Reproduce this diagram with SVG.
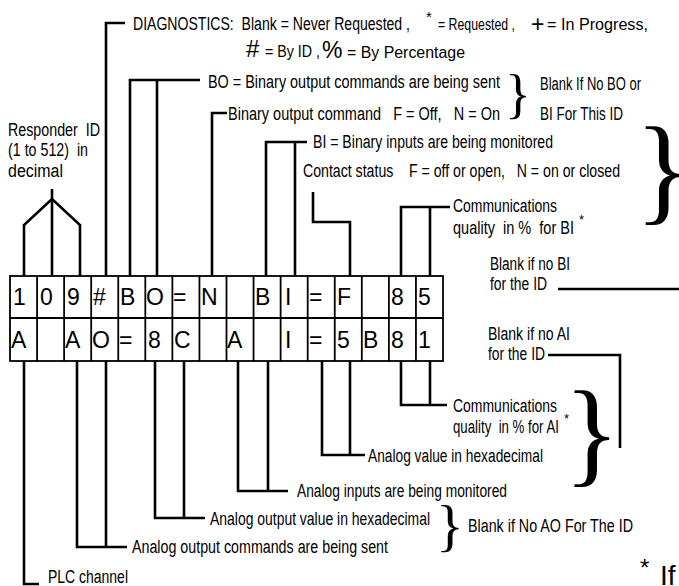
<svg xmlns="http://www.w3.org/2000/svg" width="679" height="586" viewBox="0 0 679 586">
<style>
.t{font-family:"Liberation Sans Narrow","Liberation Sans",Arial,sans-serif;font-size:18px;fill:#000;white-space:pre}
.s{font-size:16px}
.c{font-family:"Liberation Sans",Arial,sans-serif;font-size:23px;fill:#000}
.b{font-family:"Liberation Serif","Times New Roman",serif;fill:#000}
.ln{fill:none;stroke:#000;stroke-width:2.6;stroke-linejoin:miter}
.g{fill:#fff;stroke:#000;stroke-width:1.8}
</style>
<rect width="679" height="586" fill="#fff"/>

<g id="connectors" class="ln">
  <polyline points="24,276 24,225 52,199 80,225 80,276"/>
  <line x1="52" y1="189" x2="52" y2="276"/>
  <polyline points="125,23 106,23 106,276"/>
  <polyline points="130,276 130,80 200,80"/>
  <line x1="157" y1="80" x2="157" y2="276"/>
  <polyline points="227,113 212,113 212,276"/>
  <polyline points="266,276 266,142 307,142"/>
  <line x1="295" y1="142" x2="295" y2="276"/>
  <polyline points="313,192 313,222 350,222 350,276"/>
  <polyline points="401,276 401,207 450,207"/>
  <line x1="430" y1="207" x2="430" y2="276"/>
  <line x1="558" y1="289" x2="679" y2="289"/>
  <polyline points="548,355 620,355 620,448"/>
  <polyline points="24,361 24,584 39,584"/>
  <polyline points="77,361 77,547 127,547"/>
  <line x1="106" y1="361" x2="106" y2="547"/>
  <polyline points="155,361 155,518 205,518"/>
  <line x1="184" y1="361" x2="184" y2="518"/>
  <polyline points="238,361 238,491 288,491"/>
  <line x1="268" y1="361" x2="268" y2="491"/>
  <polyline points="322,361 322,455 365,455"/>
  <line x1="350" y1="361" x2="350" y2="455"/>
  <polyline points="401,361 401,405 447,405"/>
  <line x1="430" y1="361" x2="430" y2="405"/>
</g>

<g id="grid">
  <rect class="g" x="10" y="276" width="433" height="85"/>
  <g stroke="#000" stroke-width="1.8">
    <line x1="10" y1="318" x2="443" y2="318"/>
    <line x1="37.06" y1="276" x2="37.06" y2="361"/>
    <line x1="64.12" y1="276" x2="64.12" y2="361"/>
    <line x1="91.19" y1="276" x2="91.19" y2="361"/>
    <line x1="118.25" y1="276" x2="118.25" y2="361"/>
    <line x1="145.31" y1="276" x2="145.31" y2="361"/>
    <line x1="172.37" y1="276" x2="172.37" y2="361"/>
    <line x1="199.44" y1="276" x2="199.44" y2="361"/>
    <line x1="226.5" y1="276" x2="226.5" y2="361"/>
    <line x1="253.56" y1="276" x2="253.56" y2="361"/>
    <line x1="280.62" y1="276" x2="280.62" y2="361"/>
    <line x1="307.69" y1="276" x2="307.69" y2="361"/>
    <line x1="334.75" y1="276" x2="334.75" y2="361"/>
    <line x1="361.81" y1="276" x2="361.81" y2="361"/>
    <line x1="388.87" y1="276" x2="388.87" y2="361"/>
    <line x1="415.94" y1="276" x2="415.94" y2="361"/>
  </g>
  <g class="c">
    <text x="13" y="305">1</text>
    <text x="40" y="305">0</text>
    <text x="67" y="305">9</text>
    <text x="93" y="305">#</text>
    <text x="120" y="305">B</text>
    <text x="146" y="305">O</text>
    <text x="173" y="305">=</text>
    <text x="201" y="305">N</text>
    <text x="255" y="305">B</text>
    <text x="285" y="305">I</text>
    <text x="309" y="305">=</text>
    <text x="337" y="305">F</text>
    <text x="391" y="305">8</text>
    <text x="418" y="305">5</text>
    <text x="11" y="348">A</text>
    <text x="65" y="348">A</text>
    <text x="92" y="348">O</text>
    <text x="119" y="348">=</text>
    <text x="148" y="348">8</text>
    <text x="174" y="348">C</text>
    <text x="227" y="348">A</text>
    <text x="285" y="348">I</text>
    <text x="309" y="348">=</text>
    <text x="337" y="348">5</text>
    <text x="363" y="348">B</text>
    <text x="391" y="348">8</text>
    <text x="418" y="348">1</text>
  </g>
</g>

<g id="diagnostics">
  <text class="t" x="133" y="30" textLength="277" lengthAdjust="spacingAndGlyphs" xml:space="preserve">DIAGNOSTICS:  Blank = Never Requested ,</text>
  <text class="t" x="426" y="22" style="font-size:15px">*</text>
  <text class="t s" x="438" y="30" textLength="77" lengthAdjust="spacingAndGlyphs">= Requested ,</text>
  <text class="c" x="531" y="32">+</text>
  <text class="t s" x="547" y="30" textLength="101" lengthAdjust="spacingAndGlyphs">= In Progress,</text>
  <text class="t" x="246" y="57" style="font-size:24px">#</text>
  <text class="t s" x="265" y="57" textLength="55" lengthAdjust="spacingAndGlyphs">= By ID ,</text>
  <text class="c" x="322" y="58" style="font-size:23px">%</text>
  <text class="t s" x="347" y="58" textLength="118" lengthAdjust="spacingAndGlyphs">= By Percentage</text>
</g>

<g id="bo">
  <text class="t" x="208" y="88" textLength="292" lengthAdjust="spacingAndGlyphs">BO = Binary output commands are being sent</text>
</g>
<g id="bo-command">
  <text class="t" x="228" y="120" textLength="272" lengthAdjust="spacingAndGlyphs" xml:space="preserve">Binary output command   F = Off,   N = On</text>
</g>
<g id="blank-bo-bi">
  <text class="b" x="505" y="112" style="font-size:54px">}</text>
  <text class="t" x="540" y="90" textLength="101" lengthAdjust="spacingAndGlyphs">Blank If No BO or</text>
  <text class="t" x="540" y="120" textLength="83" lengthAdjust="spacingAndGlyphs">BI For This ID</text>
</g>
<g id="responder-id">
  <text class="t" x="8" y="136" textLength="92" lengthAdjust="spacingAndGlyphs" xml:space="preserve">Responder  ID</text>
  <text class="t" x="8" y="156" textLength="80" lengthAdjust="spacingAndGlyphs" xml:space="preserve">(1 to 512)  in</text>
  <text class="t" x="8" y="177" textLength="55" lengthAdjust="spacingAndGlyphs">decimal</text>
</g>
<g id="bi">
  <text class="t" x="313" y="148" textLength="240" lengthAdjust="spacingAndGlyphs">BI = Binary inputs are being monitored</text>
</g>
<g id="contact-status">
  <text class="t" x="303" y="177" textLength="317" lengthAdjust="spacingAndGlyphs" xml:space="preserve">Contact status    F = off or open,   N = on or closed</text>
</g>
<g id="comm-bi">
  <text class="t" x="453" y="212" textLength="104" lengthAdjust="spacingAndGlyphs">Communications</text>
  <text class="t" x="453" y="234" textLength="121" lengthAdjust="spacingAndGlyphs" xml:space="preserve">quality  in %  for BI</text>
  <text class="t" x="579" y="224" style="font-size:13px">*</text>
</g>
<g id="brace-bi">
  <text class="b" x="635" y="209" style="font-size:118px">}</text>
</g>
<g id="blank-no-bi">
  <text class="t" x="490" y="270" textLength="80" lengthAdjust="spacingAndGlyphs">Blank if no BI</text>
  <text class="t" x="490" y="290" textLength="57" lengthAdjust="spacingAndGlyphs">for the ID</text>
</g>
<g id="blank-no-ai">
  <text class="t" x="488" y="340" textLength="82" lengthAdjust="spacingAndGlyphs">Blank if no AI</text>
  <text class="t" x="488" y="360" textLength="57" lengthAdjust="spacingAndGlyphs">for the ID</text>
</g>
<g id="comm-ai">
  <text class="t" x="453" y="412" textLength="104" lengthAdjust="spacingAndGlyphs">Communications</text>
  <text class="t" x="453" y="433" textLength="106" lengthAdjust="spacingAndGlyphs" xml:space="preserve">quality  in % for AI</text>
  <text class="t" x="564" y="423" style="font-size:13px">*</text>
</g>
<g id="brace-ai">
  <text class="b" x="564" y="471" style="font-size:116px">}</text>
</g>
<g id="analog-value">
  <text class="t" x="368" y="462" textLength="175" lengthAdjust="spacingAndGlyphs">Analog value in hexadecimal</text>
</g>
<g id="analog-inputs">
  <text class="t" x="297" y="497" textLength="210" lengthAdjust="spacingAndGlyphs">Analog inputs are being monitored</text>
</g>
<g id="analog-output-value">
  <text class="t" x="210" y="525" textLength="220" lengthAdjust="spacingAndGlyphs">Analog output value in hexadecimal</text>
</g>
<g id="analog-output-commands">
  <text class="t" x="132" y="553" textLength="256" lengthAdjust="spacingAndGlyphs">Analog output commands are being sent</text>
</g>
<g id="blank-no-ao">
  <text class="b" x="436" y="545" style="font-size:58px">}</text>
  <text class="t" x="468" y="532" textLength="165" lengthAdjust="spacingAndGlyphs">Blank if No AO For The ID</text>
</g>
<g id="plc-channel">
  <text class="t" x="48" y="583" textLength="80" lengthAdjust="spacingAndGlyphs">PLC channel</text>
</g>
<g id="footnote">
  <text class="t" x="640" y="576" style="font-size:24px">*</text>
  <text class="t" x="660" y="585" style="font-size:28px">If</text>
</g>
</svg>
